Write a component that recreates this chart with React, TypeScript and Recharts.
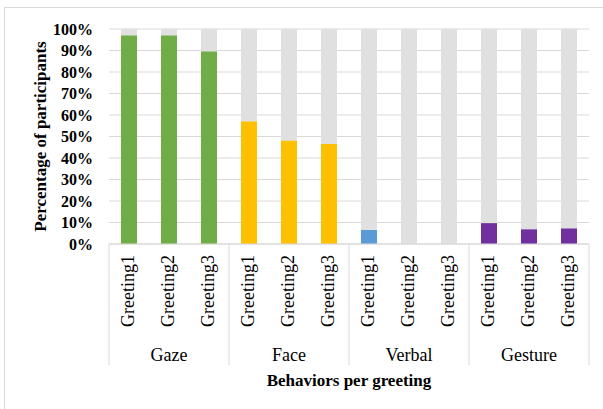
import { BarChart, Bar, XAxis, YAxis, CartesianGrid, Cell } from 'recharts';

const greetings = ['Greeting1', 'Greeting2', 'Greeting3'];
const behaviors = ['Gaze', 'Face', 'Verbal', 'Gesture'];
const gaze = [97, 97, 89.5];
const face = [57, 48, 46.5];
const verbal = [6.5, 0, 0];
const gesture = [9.7, 6.8, 7.2];
const behaviorColors = ['#70ad47', '#ffc000', '#5b9bd5', '#7030a0'];
const yTicks = [0, 10, 20, 30, 40, 50, 60, 70, 80, 90, 100];
const TOTAL = 100; // every bar is shown against the full 100% of participants

const seriesByBehavior = [gaze, face, verbal, gesture];

const data = behaviors.flatMap((behavior, bi) =>
  greetings.map((greeting, gi) => ({
    key: `${behavior}|${greeting}`,
    behavior,
    greeting,
    total: TOTAL,
    value: seriesByBehavior[bi][gi],
    color: behaviorColors[bi],
  }))
);

const FONT = '"Liberation Serif", "Times New Roman", serif';
const PLOT_W = 480;
const HALF_BAND = PLOT_W / data.length / 2;
const BAR_W = 16;

const GreetingTick = ({ x, y, index }: any) => {
  const d = data[index];
  if (!d) return null;
  const gi = index % greetings.length;
  return (
    <g>
      <text
        transform={`translate(${x + 5}, ${y + 11}) rotate(-90)`}
        textAnchor="end"
        fontFamily={FONT}
        fontSize={18}
        fill="#000"
      >
        {d.greeting}
      </text>
      {gi === 1 && (
        <text x={x} y={y + 117} textAnchor="middle" fontFamily={FONT} fontSize={18} fill="#000">
          {d.behavior}
        </text>
      )}
      {gi === 0 && (
        <line x1={x - HALF_BAND} x2={x - HALF_BAND} y1={y} y2={y + 121} stroke="#d9d9d9" />
      )}
      {index === data.length - 1 && (
        <line x1={x + HALF_BAND} x2={x + HALF_BAND} y1={y} y2={y + 121} stroke="#d9d9d9" />
      )}
    </g>
  );
};

export default function App() {
  return (
    <div
      style={{
        position: 'absolute',
        left: 0,
        top: 0,
        width: 603,
        height: 409,
        background: '#fff',
        overflow: 'hidden',
      }}
    >
      <div
        style={{
          position: 'absolute',
          left: 4,
          top: 7,
          width: 620,
          height: 420,
          border: '1.5px solid #d9d9d9',
        }}
      />
      <BarChart
        width={603}
        height={409}
        data={data}
        margin={{ top: 29, right: 14, left: 0, bottom: 0 }}
        barGap={-BAR_W}
        barSize={BAR_W}
        style={{ position: 'absolute', left: 0, top: 0 }}
      >
        <CartesianGrid vertical={false} stroke="#d9d9d9" />
        <XAxis
          dataKey="key"
          interval={0}
          height={165}
          tickLine={false}
          tickSize={0}
          tickMargin={0}
          axisLine={{ stroke: '#d9d9d9' }}
          tick={<GreetingTick />}
          label={{
            value: 'Behaviors per greeting',
            position: 'insideBottom',
            offset: 23,
            style: { fontFamily: FONT, fontSize: 17, fontWeight: 'bold', fill: '#000' },
          }}
        />
        <YAxis
          width={109}
          domain={[0, 100]}
          ticks={yTicks}
          interval={0}
          tickFormatter={(v: number) => `${v}%`}
          axisLine={false}
          tickLine={false}
          tickSize={0}
          tickMargin={16}
          tick={{ fontFamily: FONT, fontSize: 16, fontWeight: 'bold', fill: '#000' }}
          label={{
            value: 'Percentage of participants',
            angle: -90,
            position: 'insideLeft',
            offset: 40,
            style: { fontFamily: FONT, fontSize: 17, fontWeight: 'bold', fill: '#000', textAnchor: 'middle' },
          }}
        />
        <Bar dataKey="total" fill="#e0e0e0" barSize={BAR_W} isAnimationActive={false} />
        <Bar dataKey="value" barSize={BAR_W} isAnimationActive={false}>
          {data.map((d) => (
            <Cell key={d.key} fill={d.color} />
          ))}
        </Bar>
      </BarChart>
    </div>
  );
}
